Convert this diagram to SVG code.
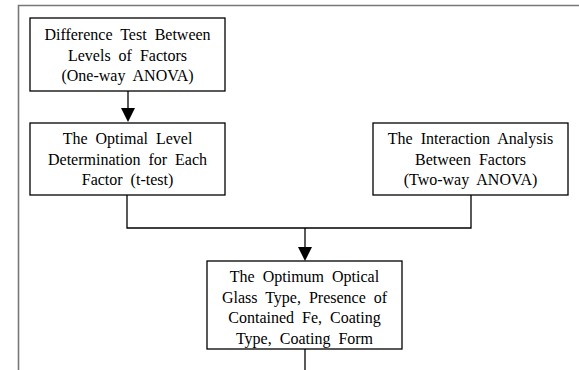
<svg xmlns="http://www.w3.org/2000/svg" width="579" height="370" viewBox="0 0 579 370">
<style>
.box{fill:#fff;stroke:#000;stroke-width:1.3}
.t{font-family:"Liberation Serif","Times New Roman",serif;font-size:16px;fill:#000;text-anchor:middle;word-spacing:4px}
.c{fill:none;stroke:#000;stroke-width:1.3}
.frame{fill:none;stroke:#777;stroke-width:1.6}
</style>
<rect width="579" height="370" fill="#fff"/>
<path class="frame" d="M18.5,372 V5.5 H581"/>
<g id="connectors">
<line class="c" x1="128" y1="91" x2="128" y2="108"/>
<path d="M121,108 L135,108 L128,122 Z" fill="#000"/>
<polyline class="c" points="127,195 127,228 471,228 471,195"/>
<line class="c" x1="305" y1="228" x2="305" y2="247"/>
<path d="M298,247 L312,247 L305,261 Z" fill="#000"/>
<line class="c" x1="305" y1="349" x2="305" y2="372"/>
</g>
<g id="n1">
<rect class="box" x="30" y="18" width="195" height="73"/>
<text class="t" x="127.5" y="40">Difference Test Between</text>
<text class="t" x="127.5" y="61">Levels of Factors</text>
<text class="t" x="127.5" y="81">(One-way ANOVA)</text>
</g>
<g id="n2">
<rect class="box" x="30" y="123" width="195" height="72"/>
<text class="t" x="127.5" y="144">The Optimal Level</text>
<text class="t" x="127.5" y="165">Determination for Each</text>
<text class="t" x="127.5" y="185">Factor (t-test)</text>
</g>
<g id="n3">
<rect class="box" x="373" y="123" width="195" height="72"/>
<text class="t" x="470.5" y="144">The Interaction Analysis</text>
<text class="t" x="470.5" y="165">Between Factors</text>
<text class="t" x="470.5" y="185">(Two-way ANOVA)</text>
</g>
<g id="n4">
<rect class="box" x="207" y="261" width="195" height="88"/>
<text class="t" x="304.5" y="282">The Optimum Optical</text>
<text class="t" x="304.5" y="303">Glass Type, Presence of</text>
<text class="t" x="304.5" y="323">Contained Fe, Coating</text>
<text class="t" x="304.5" y="344">Type, Coating Form</text>
</g>
</svg>
